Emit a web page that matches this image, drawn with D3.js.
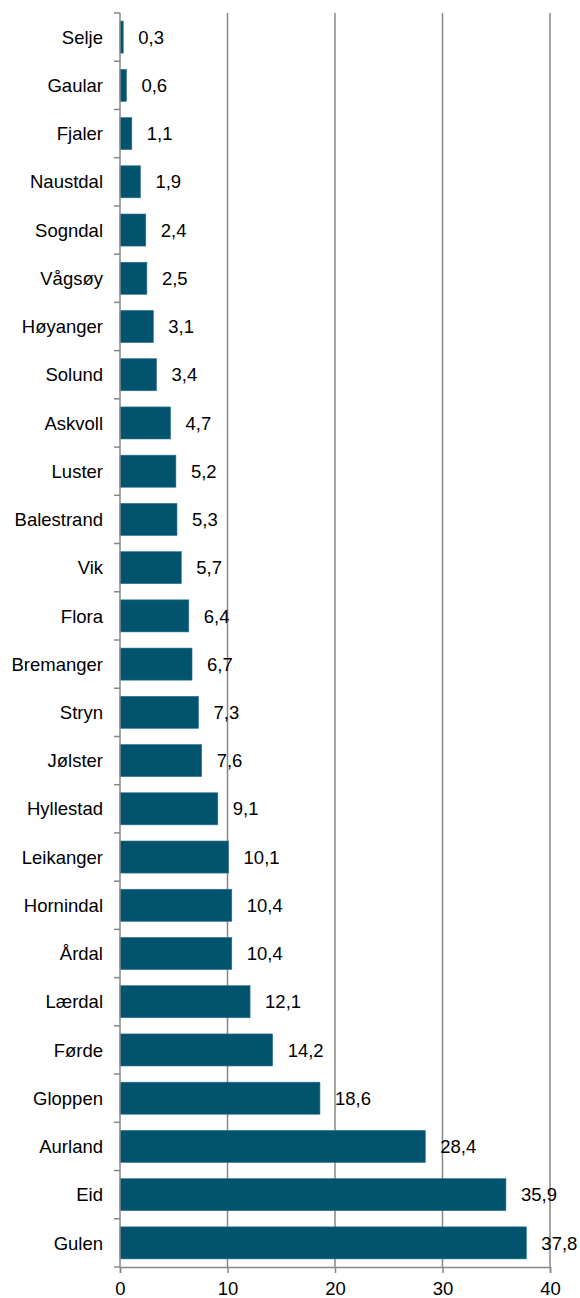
<!DOCTYPE html>
<html>
<head>
<meta charset="utf-8">
<script src="https://cdn.jsdelivr.net/npm/d3@7"></script>
<style>
  html, body { margin: 0; padding: 0; background: #fff; }
  svg { display: block; }
  text { font-family: "Liberation Sans", Arial, sans-serif; fill: #000; }
</style>
</head>
<body>
<svg id="chart" width="580" height="1298"></svg>
<script>
const categories = ["Selje","Gaular","Fjaler","Naustdal","Sogndal","Vågsøy","Høyanger","Solund","Askvoll","Luster","Balestrand","Vik","Flora","Bremanger","Stryn","Jølster","Hyllestad","Leikanger","Hornindal","Årdal","Lærdal","Førde","Gloppen","Aurland","Eid","Gulen"];
const values = [0.3,0.6,1.1,1.9,2.4,2.5,3.1,3.4,4.7,5.2,5.3,5.7,6.4,6.7,7.3,7.6,9.1,10.1,10.4,10.4,12.1,14.2,18.6,28.4,35.9,37.8];
const xTicks = [0,10,20,30,40];

const svg = d3.select("#chart");
const pLeft = 120, pRight = 550, pTop = 13, pBottom = 1267;
const fs = 18.5;

const x = d3.scaleLinear().domain([0,40]).range([pLeft, pRight]);
const y = d3.scaleBand().domain(categories).range([pTop, pBottom]).paddingInner(0.335).paddingOuter(0.1675);
const fmt = v => d3.format(".1f")(v).replace(".", ",");
const gray = "#878787";

// gridlines
svg.append("g").selectAll("line").data(xTicks.filter(d => d > 0)).join("line")
  .attr("x1", d => x(d)).attr("x2", d => x(d))
  .attr("y1", pTop).attr("y2", pBottom)
  .attr("stroke", gray).attr("stroke-width", 1.5);

// bars
svg.append("g").selectAll("rect").data(categories).join("rect")
  .attr("x", x(0))
  .attr("y", (d) => y(d))
  .attr("width", (d, i) => x(values[i]) - x(0))
  .attr("height", y.bandwidth())
  .attr("fill", "#02546e")
  .attr("stroke", "#2f7590").attr("stroke-width", 0.6);

// value labels
svg.append("g").selectAll("text").data(categories).join("text")
  .attr("x", (d, i) => x(values[i]) + 15)
  .attr("y", d => y(d) + y.bandwidth() / 2)
  .attr("dy", "0.36em")
  .attr("font-size", fs)
  .text((d, i) => fmt(values[i]));

// y axis
const yAxisTicks = d3.range(categories.length + 1).map(i => pTop + i * y.step());
const ya = svg.append("g");
ya.append("line").attr("x1", pLeft).attr("x2", pLeft).attr("y1", pTop).attr("y2", pBottom)
  .attr("stroke", gray).attr("stroke-width", 1.5);
ya.selectAll("line.t").data(yAxisTicks).join("line").attr("class", "t")
  .attr("x1", pLeft - 6).attr("x2", pLeft).attr("y1", d => d).attr("y2", d => d)
  .attr("stroke", gray).attr("stroke-width", 1.5);
ya.selectAll("text").data(categories).join("text")
  .attr("x", 103)
  .attr("y", d => y(d) + y.bandwidth() / 2)
  .attr("dy", "0.36em")
  .attr("text-anchor", "end")
  .attr("font-size", fs)
  .text(d => d);

// x axis
const xAxis = d3.axisBottom(x).tickValues(xTicks).tickSize(6).tickPadding(9).tickFormat(d => d);
const xa = svg.append("g").attr("transform", `translate(0,${pBottom})`).call(xAxis);
xa.select(".domain").attr("stroke", gray).attr("stroke-width", 1.5);
xa.selectAll(".tick line").attr("stroke", gray).attr("stroke-width", 1.5);
xa.selectAll(".tick text").attr("font-size", fs).attr("font-family", "Liberation Sans, Arial, sans-serif").attr("fill", "#000");
</script>
</body>
</html>
